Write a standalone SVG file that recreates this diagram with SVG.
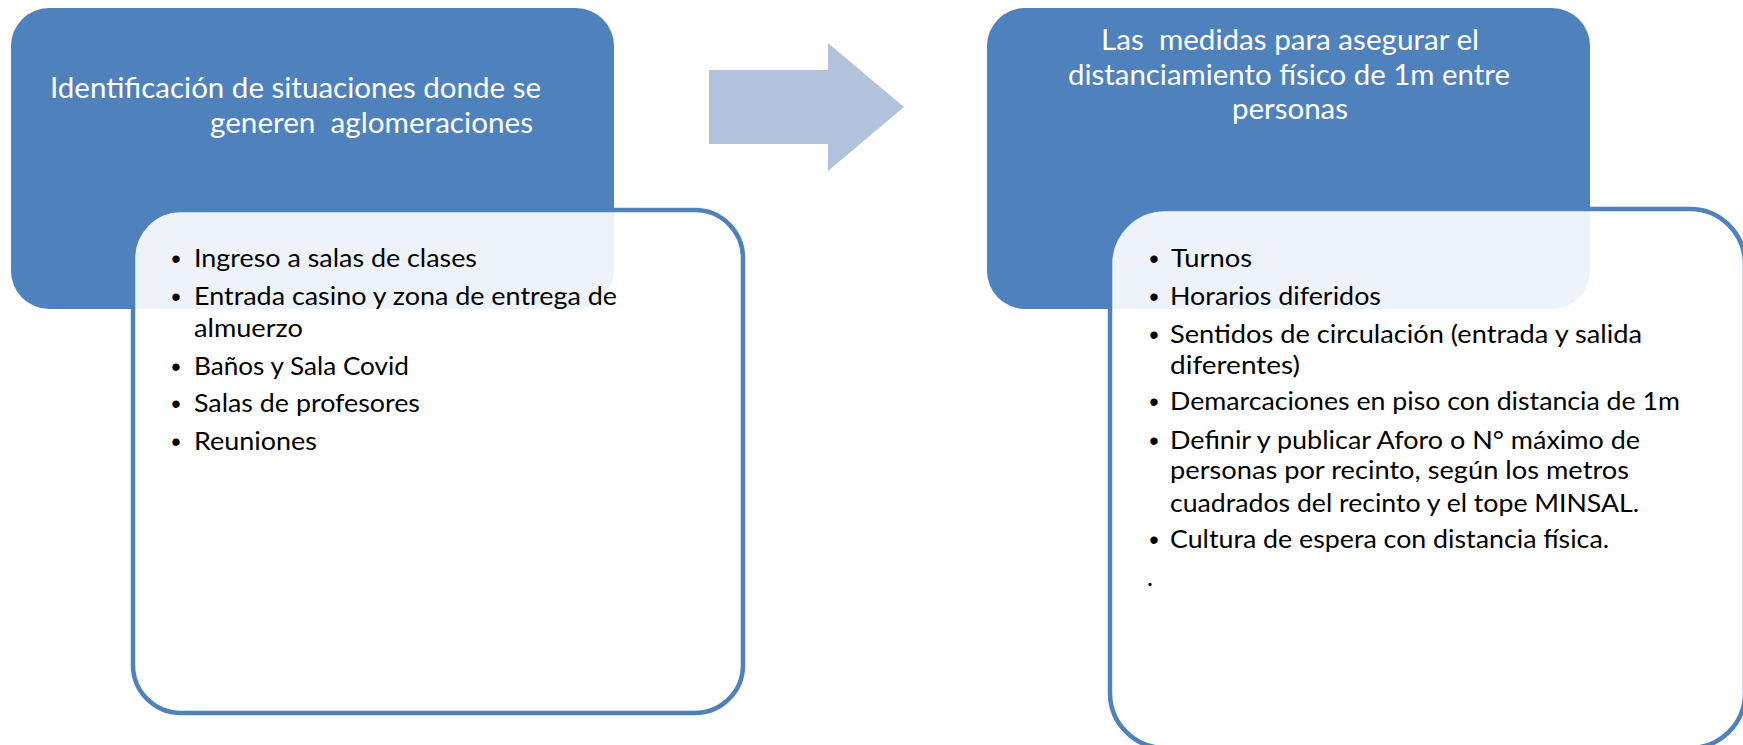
<svg xmlns="http://www.w3.org/2000/svg" width="1743" height="745" viewBox="0 0 1743 745">
<style>
.top{fill:#4F81BD;}
.low{fill:#FFFFFF;fill-opacity:0.9;stroke:#4F81BD;stroke-width:4.5;}
.arrow{fill:#B3C2DC;}
.ttl{font-family:Lato,"Liberation Sans",sans-serif;font-size:29px;fill:#FFFFFF;}
.li{font-family:Lato,"Liberation Sans",sans-serif;font-size:25px;fill:#000000;}
.bul{font-family:"Liberation Sans",sans-serif;font-size:27px;fill:#000000;text-anchor:middle;}
</style>
<rect width="1743" height="745" fill="#FFFFFF"/>
<g id="connectors">
<polygon class="arrow" points="709,70 828,70 828,43 904,107 828,171 828,144 709,144"/>
</g>
<g id="node-left-title">
<rect class="top" x="11" y="8" width="603" height="301" rx="38" ry="38"/>
<text class="ttl" x="50" y="98" textLength="491" lengthAdjust="spacingAndGlyphs">Identificación de situaciones donde se</text>
<text class="ttl" x="210" y="133" textLength="323" lengthAdjust="spacingAndGlyphs" xml:space="preserve">generen  aglomeraciones</text>
</g>
<g id="node-left-list">
<rect class="low" x="133" y="210" width="610" height="503" rx="48" ry="48"/>
<text class="bul" x="176" y="268">•</text>
<text class="li" x="194" y="267" textLength="283" lengthAdjust="spacingAndGlyphs">Ingreso a salas de clases</text>
<text class="bul" x="176" y="306">•</text>
<text class="li" x="194" y="305" textLength="423" lengthAdjust="spacingAndGlyphs">Entrada casino y zona de entrega de</text>
<text class="li" x="194" y="337" textLength="109" lengthAdjust="spacingAndGlyphs">almuerzo</text>
<text class="bul" x="176" y="376">•</text>
<text class="li" x="194" y="375" textLength="215" lengthAdjust="spacingAndGlyphs">Baños y Sala Covid</text>
<text class="bul" x="176" y="413">•</text>
<text class="li" x="194" y="412" textLength="226" lengthAdjust="spacingAndGlyphs">Salas de profesores</text>
<text class="bul" x="176" y="451">•</text>
<text class="li" x="194" y="450" textLength="123" lengthAdjust="spacingAndGlyphs">Reuniones</text>
</g>
<g id="node-right-title">
<rect class="top" x="987" y="8" width="603" height="301" rx="38" ry="38"/>
<text class="ttl" x="1101" y="50" textLength="378" lengthAdjust="spacingAndGlyphs" xml:space="preserve">Las  medidas para asegurar el</text>
<text class="ttl" x="1068" y="85" textLength="442" lengthAdjust="spacingAndGlyphs">distanciamiento físico de 1m entre</text>
<text class="ttl" x="1232" y="119" textLength="116" lengthAdjust="spacingAndGlyphs">personas</text>
</g>
<g id="node-right-list">
<rect class="low" x="1110" y="209" width="635" height="539" rx="55" ry="55"/>
<text class="bul" x="1154" y="268">•</text>
<text class="li" x="1171" y="267" textLength="81" lengthAdjust="spacingAndGlyphs">Turnos</text>
<text class="bul" x="1154" y="306">•</text>
<text class="li" x="1170" y="305" textLength="211" lengthAdjust="spacingAndGlyphs">Horarios diferidos</text>
<text class="bul" x="1154" y="344">•</text>
<text class="li" x="1170" y="343" textLength="472" lengthAdjust="spacingAndGlyphs">Sentidos de circulación (entrada y salida</text>
<text class="li" x="1170" y="374" textLength="130" lengthAdjust="spacingAndGlyphs">diferentes)</text>
<text class="bul" x="1154" y="411">•</text>
<text class="li" x="1170" y="410" textLength="510" lengthAdjust="spacingAndGlyphs">Demarcaciones en piso con distancia de 1m</text>
<text class="bul" x="1154" y="450">•</text>
<text class="li" x="1170" y="449" textLength="470" lengthAdjust="spacingAndGlyphs">Definir y publicar Aforo o N° máximo de</text>
<text class="li" x="1170" y="479" textLength="459" lengthAdjust="spacingAndGlyphs">personas por recinto, según los metros</text>
<text class="li" x="1170" y="512" textLength="469" lengthAdjust="spacingAndGlyphs">cuadrados del recinto y el tope MINSAL.</text>
<text class="bul" x="1154" y="549">•</text>
<text class="li" x="1170" y="548" textLength="439" lengthAdjust="spacingAndGlyphs">Cultura de espera con distancia física.</text>
<text class="li" x="1147" y="586">.</text>
</g>
</svg>
